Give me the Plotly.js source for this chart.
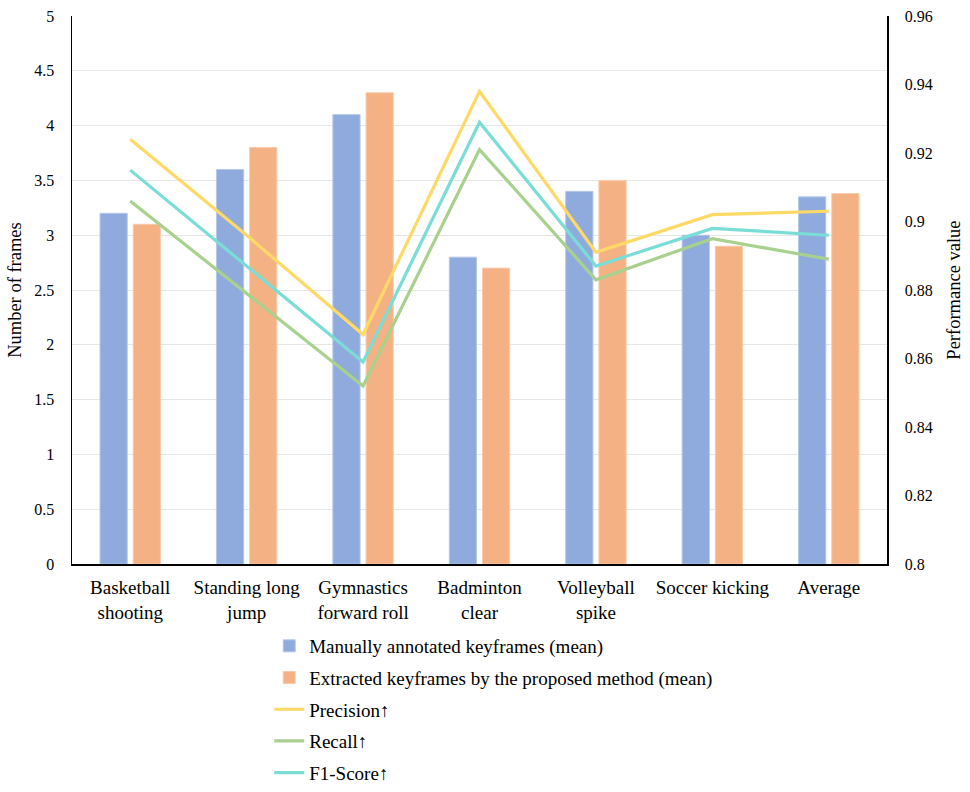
<!DOCTYPE html>
<html>
<head>
<meta charset="utf-8">
<script src="https://cdn.plot.ly/plotly-3.0.1.min.js"></script>
<style>
  html, body { margin: 0; padding: 0; background: #fff; }
  #chart { width: 970px; height: 792px; }
</style>
</head>
<body>
<div id="chart"></div>
<script>
// categories and series
const categories = [
  'Basketball<br>shooting', 'Standing long<br>jump', 'Gymnastics<br>forward roll',
  'Badminton<br>clear', 'Volleyball<br>spike', 'Soccer kicking', 'Average'
];
const manualFrames = [3.2, 3.6, 4.1, 2.8, 3.4, 3.0, 3.35];
const extractedFrames = [3.1, 3.8, 4.3, 2.7, 3.5, 2.9, 3.38];
const precision = [0.924, 0.896, 0.867, 0.938, 0.891, 0.902, 0.903];
const recall = [0.906, 0.879, 0.852, 0.921, 0.883, 0.895, 0.889];
const f1Score = [0.915, 0.887, 0.859, 0.929, 0.887, 0.898, 0.896];

const leftTicks = [0, 0.5, 1, 1.5, 2, 2.5, 3, 3.5, 4, 4.5, 5];
const leftTickText = ['0', '0.5', '1', '1.5', '2', '2.5', '3', '3.5', '4', '4.5', '5'];
const rightTicks = [0.8, 0.82, 0.84, 0.86, 0.88, 0.9, 0.92, 0.94, 0.96];
const rightTickText = ['0.8', '0.82', '0.84', '0.86', '0.88', '0.9', '0.92', '0.94', '0.96'];

const font = 'Liberation Serif';
const clear = 'rgba(0,0,0,0)';

const traces = [
  {
    x: categories, y: manualFrames, name: 'Manually annotated keyframes (mean)',
    type: 'bar', legendgroup: 'a',
    marker: { color: '#8FAADC', line: { color: '#B4C7EA', width: 1 } }
  },
  {
    x: categories, y: extractedFrames, name: 'Extracted keyframes by the proposed method (mean)',
    type: 'bar', legendgroup: 'b',
    marker: { color: '#F4B183', line: { color: '#F8CBAD', width: 1 } }
  },
  {
    x: categories, y: precision, name: 'Precision↑', type: 'scatter', mode: 'lines',
    yaxis: 'y2', legendgroup: 'c', line: { color: '#FFD966', width: 3.2 }
  },
  {
    x: categories, y: recall, name: 'Recall↑', type: 'scatter', mode: 'lines',
    yaxis: 'y2', legendgroup: 'd', line: { color: '#A9D18E', width: 3.2 }
  },
  {
    x: categories, y: f1Score, name: 'F1-Score↑', type: 'scatter', mode: 'lines',
    yaxis: 'y2', legendgroup: 'e', line: { color: '#7ADDD6', width: 3.2 }
  }
];

// plot area runs from y=16 to y=564 px; the legend sits on the paper below it
const layout = {
  width: 970,
  height: 792,
  margin: { l: 72, r: 83, t: 16, b: 0 },
  paper_bgcolor: '#fff',
  plot_bgcolor: '#fff',
  font: { family: font, size: 16, color: '#000' },
  barmode: 'group',
  bargap: 0.43,
  bargroupgap: 0.18,
  showlegend: true,
  legend: {
    x: 0.242, xanchor: 'left', y: 0.205, yanchor: 'top',
    orientation: 'v', tracegroupgap: 4,
    font: { family: font, size: 19, color: '#000' }
  },
  xaxis: {
    type: 'category', automargin: false,
    showline: true, linecolor: '#000', linewidth: 1.5,
    ticks: 'outside', ticklen: 6, tickcolor: clear, showgrid: false,
    tickfont: { family: font, size: 19 }
  },
  yaxis: {
    domain: [0.2873, 1],
    range: [0, 5], tickvals: leftTicks, ticktext: leftTickText, automargin: false,
    showline: true, linecolor: '#000', linewidth: 1.5,
    showgrid: true, gridcolor: '#E6E6E6', gridwidth: 1,
    zeroline: false, ticks: 'outside', ticklen: 13, tickcolor: clear,
    tickfont: { family: font, size: 16 },
    title: { text: 'Number of frames', font: { family: font, size: 18.5 }, standoff: 8 }
  },
  yaxis2: {
    domain: [0.2873, 1],
    overlaying: 'y', side: 'right', automargin: false,
    range: [0.8, 0.96], tickvals: rightTicks, ticktext: rightTickText,
    showline: true, linecolor: '#000', linewidth: 1.5,
    showgrid: false, zeroline: false, ticks: 'outside', ticklen: 13, tickcolor: clear,
    tickfont: { family: font, size: 16 },
    title: { text: 'Performance value', font: { family: font, size: 18.5 }, standoff: 15 }
  }
};

Plotly.newPlot('chart', traces, layout, { displayModeBar: false, staticPlot: true });
</script>
</body>
</html>
